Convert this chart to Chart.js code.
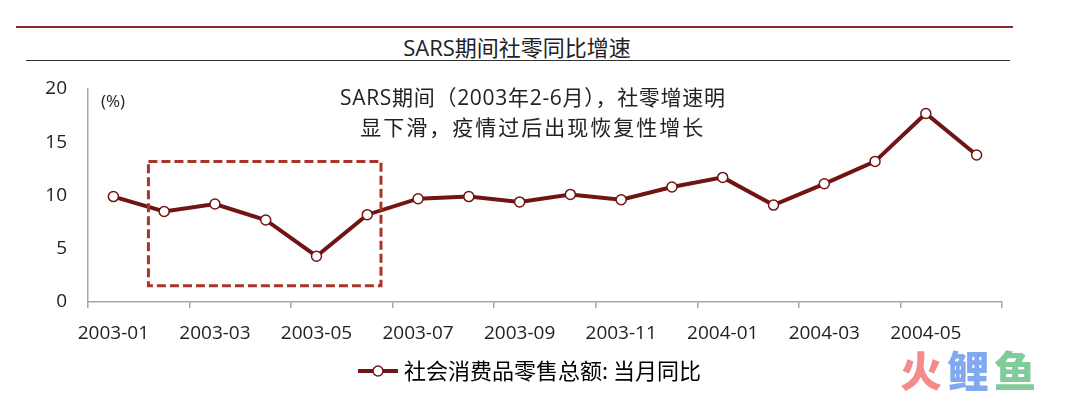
<!DOCTYPE html>
<html>
<head>
<meta charset="utf-8">
<script src="https://cdn.jsdelivr.net/npm/chart.js@4.4.1/dist/chart.umd.min.js"></script>
<style>
body{margin:0;background:#fff;}
#wrap{position:relative;width:1080px;height:398px;overflow:hidden;}
.rule{position:absolute;}
#title{position:absolute;left:0;top:34px;width:1034px;text-align:center;font-size:22px;line-height:26px;color:#222;font-family:"Open Sans","Noto Sans CJK SC";}
#myChart{position:absolute;left:0;top:0;}
#logo{position:absolute;left:900px;top:346px;font-family:"Noto Sans CJK SC";font-weight:900;font-size:42px;line-height:46px;letter-spacing:5px;}
</style>
</head>
<body>
<div id="wrap">
	<div class="rule" style="left:16px;top:26px;width:997px;height:2px;background:#8a2b2b"></div>
	<div id="title">SARS期间社零同比增速</div>
	<div class="rule" style="left:26px;top:60px;width:984px;height:1px;background:#333"></div>
	<canvas id="myChart" width="1080" height="398"></canvas>
	<div id="logo"><span style="color:#f48b8b">火</span><span style="color:#82a9f0">鲤</span><span style="color:#80cb99">鱼</span></div>
</div>
<script>
const months = ['2003-01','2003-02','2003-03','2003-04','2003-05','2003-06','2003-07','2003-08','2003-09',
	'2003-10','2003-11','2003-12','2004-01','2004-02','2004-03','2004-04','2004-05','2004-06'];
const retailYoY = [9.9, 8.5, 9.2, 7.7, 4.3, 8.2, 9.7, 9.9, 9.4, 10.1, 9.6, 10.8, 11.7, 9.1, 11.1, 13.2, 17.7, 13.8];
const yTicks = [0, 5, 10, 15, 20];
const seriesName = '社会消费品零售总额: 当月同比';
const noteLines = ['SARS期间（2003年2-6月），社零增速明', '显下滑，疫情过后出现恢复性增长'];
const unitLabel = '(%)';

const lineColor = '#701414';
const axisColor = '#a6a6a6';

// legend marker: line with a hollow circle
const mark = document.createElement('canvas');
mark.width = 40;
mark.height = 14;
const m = mark.getContext('2d');
m.strokeStyle = lineColor;
m.lineWidth = 4;
m.beginPath(); m.moveTo(0, 7); m.lineTo(40, 7); m.stroke();
m.beginPath(); m.arc(20, 7, 5, 0, Math.PI * 2);
m.fillStyle = '#fff'; m.fill();
m.lineWidth = 1.5; m.stroke();

// dashed box + notes drawn on the scales
const notes = {
	id: 'notes',
	afterDatasetsDraw(chart) {
		const ctx = chart.ctx;
		const x = chart.scales.x, y = chart.scales.y;
		ctx.save();
		ctx.strokeStyle = '#a8342a';
		ctx.lineWidth = 3;
		ctx.setLineDash([9, 4]);
		const l = x.getPixelForValue(0.69), r = x.getPixelForValue(5.27);
		const t = y.getPixelForValue(13.2), b = y.getPixelForValue(1.52);
		ctx.strokeRect(l, t, r - l, b - t);
		ctx.setLineDash([]);

		ctx.fillStyle = '#222';
		ctx.textAlign = 'center';
		ctx.textBaseline = 'middle';
		ctx.font = '21px "Open Sans", "Noto Sans CJK SC"';
		ctx.letterSpacing = '0.7px';
		ctx.fillText(noteLines[0], x.getPixelForValue(8.26), y.getPixelForValue(19.1));
		ctx.letterSpacing = '2px';
		ctx.fillText(noteLines[1], x.getPixelForValue(8.26), y.getPixelForValue(16.2));
		ctx.letterSpacing = '0px';

		ctx.textAlign = 'left';
		ctx.font = '17px "Open Sans"';
		ctx.fillText(unitLabel, chart.chartArea.left + 13, y.getPixelForValue(18.75));
		ctx.restore();
	}
};

const tickShown = c => (c.index === undefined || c.index % 2 === 0) ? axisColor : 'rgba(0,0,0,0)';

const ctx = document.getElementById('myChart').getContext('2d');
const myChart = new Chart(ctx, {
	type: 'line',
	data: {
		labels: months,
		datasets: [{
			label: seriesName,
			data: retailYoY,
			borderColor: lineColor,
			borderWidth: 4,
			pointRadius: 5,
			pointBackgroundColor: '#fff',
			pointBorderColor: lineColor,
			pointBorderWidth: 1.5,
			tension: 0
		}]
	},
	options: {
		responsive: false,
		animation: false,
		layout: { padding: { left: 40, right: 56, top: 89, bottom: 6 } },
		plugins: {
			tooltip: { enabled: false },
			legend: {
				position: 'bottom',
				labels: {
					usePointStyle: true,
					pointStyleWidth: 30,
					boxHeight: 14,
					color: '#333',
					font: { size: 22, family: '"Noto Sans CJK SC"' },
					generateLabels: () => [{
						text: seriesName, pointStyle: mark, fillStyle: '#fff',
						strokeStyle: lineColor, lineWidth: 0, hidden: false, datasetIndex: 0
					}]
				}
			}
		},
		scales: {
			x: {
				offset: true,
				grid: {
					offset: true, drawOnChartArea: false, drawTicks: true, tickLength: 6,
					lineWidth: 1.5, color: tickShown, tickColor: tickShown
				},
				border: { color: axisColor, width: 1.5 },
				ticks: {
					autoSkip: false, maxRotation: 0, padding: 14, color: '#222',
					font: { size: 19, family: '"Open Sans"' },
					callback: (v, i) => i % 2 === 0 ? months[i] : ''
				},
				afterFit: s => { s.height = 48; }
			},
			y: {
				min: yTicks[0],
				max: yTicks[yTicks.length - 1],
				grid: { display: false, drawTicks: false },
				border: { display: true, color: axisColor, width: 1.5 },
				ticks: {
					stepSize: 5, padding: 21, color: '#222',
					font: { size: 19, family: '"Open Sans"' }
				},
				afterFit: s => { s.width = 48; }
			},
			// empty right spacer so the legend sits where the original has it
			y2: {
				position: 'right',
				grid: { display: false, drawTicks: false },
				border: { display: false },
				ticks: { display: false },
				afterFit: s => { s.width = 22; }
			}
		}
	},
	plugins: [notes]
});
</script>
</body>
</html>
